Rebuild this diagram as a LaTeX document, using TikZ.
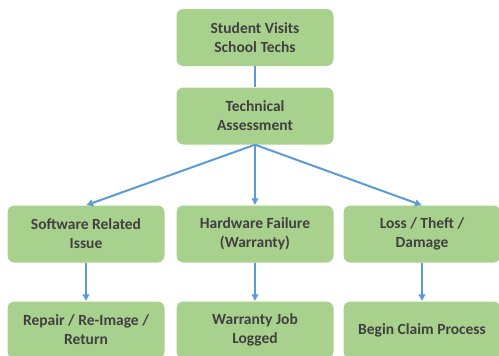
\documentclass[tikz,border=0pt]{standalone}
\usepackage{fontspec}
\setmainfont{Carlito}
\usetikzlibrary{arrows.meta}
\definecolor{vertboite}{HTML}{A9D18E}
\definecolor{texteboite}{HTML}{404040}
\definecolor{bleufleche}{HTML}{5B9BD5}
\begin{document}
\begin{tikzpicture}[x=1pt,y=-1pt]
		\tikzstyle{boite}=[fill=vertboite,rounded corners=7pt,minimum width=157pt,minimum height=57pt,align=center,text=texteboite,font=\fontsize{15.5}{19}\selectfont\bfseries]
		\tikzstyle{trait}=[draw=bleufleche,line width=2pt]
		\tikzstyle{fleche}=[trait,->,>={Latex[length=7pt,width=8pt]}]
		
		\def\ColonneA{86}
		\def\ColonneB{255}
		\def\ColonneC{422}
		
		\useasboundingbox (0,0) rectangle (499,356);
		
		\node[boite] (Visite) at (\ColonneB,37.5) {Student Visits\\School Techs};
		\node[boite] (Evaluation) at (\ColonneB,116) {Technical\\Assessment};
		\node[boite] (Logiciel) at (\ColonneA,234) {Software Related\\Issue};
		\node[boite] (Materiel) at (\ColonneB,234) {Hardware Failure\\(Warranty)};
		\node[boite] (Perte) at (\ColonneC,234) {Loss / Theft /\\Damage};
		\node[boite] (Reparation) at (\ColonneA,330) {Repair / Re-Image /\\Return};
		\node[boite] (Garantie) at (\ColonneB,330) {Warranty Job\\Logged};
		\node[boite] (Sinistre) at (\ColonneC,330) {Begin Claim Process};
		
		\draw[trait] (Visite)--(Evaluation);
		\draw[fleche] (Evaluation.south)--(Logiciel.north);
		\draw[fleche] (Evaluation.south)--(Materiel.north);
		\draw[fleche] (Evaluation.south)--(Perte.north);
		\draw[fleche] (Logiciel)--(Reparation);
		\draw[fleche] (Materiel)--(Garantie);
		\draw[fleche] (Perte)--(Sinistre);
		\end{tikzpicture}
\end{document}
